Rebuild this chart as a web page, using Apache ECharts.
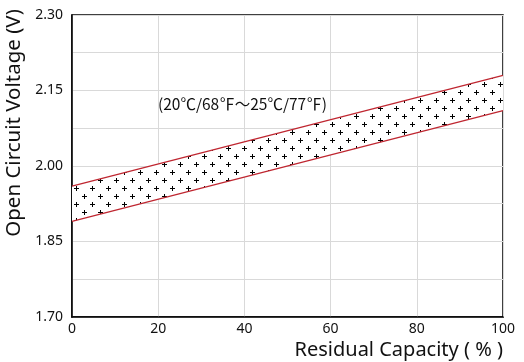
<!DOCTYPE html>
<html><head><meta charset="utf-8">
<script src="https://cdn.jsdelivr.net/npm/echarts@6/dist/echarts.min.js"></script>
<style>html,body{margin:0;padding:0;background:#fff}#c{width:524px;height:362px}</style>
</head><body><div id="c"></div>
<script>
const capacity = [0, 100];
const upperV = [1.96, 2.18];
const lowerV = [1.89, 2.11];
const yTickLabels = ['1.70', '1.85', '2.00', '2.15', '2.30'];
const xTickLabels = ['0', '20', '40', '60', '80', '100'];
const bandLabel = '(20\u2103/68\u2109\uff5e25\u2103/77\u2109)';

const pc = document.createElement('canvas');
pc.width = 16; pc.height = 16;
const g = pc.getContext('2d');
g.fillStyle = '#fff'; g.fillRect(0, 0, 16, 16);
g.fillStyle = '#000';
function plus(x, y) { g.fillRect(x - 2, y, 5, 1); g.fillRect(x, y - 2, 1, 5); }
plus(4, 4); plus(12, 12);

const chart = echarts.init(document.getElementById('c'), null, {renderer: 'canvas'});
const font = '"Noto Sans", "DejaVu Sans", sans-serif';
const bandData = capacity.map((x, i) => [x, lowerV[i], upperV[i]]);
chart.setOption({
  animation: false,
  grid: {left: 72, right: 21, top: 15, bottom: 45, show: true, borderColor: '#000', borderWidth: 1.5, backgroundColor: 'transparent'},
  xAxis: {
    type: 'value', min: 0, max: 100, interval: 20,
    axisLine: {show: true, lineStyle: {color: '#000', width: 1.5}},
    axisTick: {show: false},
    splitLine: {show: true, lineStyle: {color: '#d9d9d9', width: 1}},
    axisLabel: {color: '#111', fontSize: 14, fontFamily: font, margin: 5,
      formatter: v => xTickLabels.includes(String(v)) ? String(v) : ''}
  },
  yAxis: {
    type: 'value', min: 1.70, max: 2.30, interval: 0.075,
    axisLine: {show: true, lineStyle: {color: '#000', width: 1.5}},
    axisTick: {show: false},
    splitLine: {show: true, lineStyle: {color: '#d9d9d9', width: 1}},
    axisLabel: {color: '#111', fontSize: 14, fontFamily: font, margin: 9,
      formatter: v => { const s = v.toFixed(2); return yTickLabels.includes(s) ? s : ''; }}
  },
  series: [
    {type: 'custom', z: 2, clip: true,
     data: bandData,
     encode: {x: 0, y: [1, 2]},
     renderItem: function (params, api) {
       if (params.dataIndex !== 0) return;
       const pts = [];
       for (let i = 0; i < bandData.length; i++) pts.push(api.coord([bandData[i][0], bandData[i][2]]));
       for (let i = bandData.length - 1; i >= 0; i--) pts.push(api.coord([bandData[i][0], bandData[i][1]]));
       return {type: 'polygon', shape: {points: pts}, style: {fill: {image: pc, repeat: 'repeat'}, stroke: null}};
     }},
    {type: 'line', symbol: 'none', z: 3,
     data: capacity.map((x, i) => [x, lowerV[i]]),
     lineStyle: {color: '#bf2630', width: 1.2}},
    {type: 'line', symbol: 'none', z: 3,
     data: capacity.map((x, i) => [x, upperV[i]]),
     lineStyle: {color: '#bf2630', width: 1.2}}
  ],
  graphic: [
    {type: 'text', left: 158, top: 96, z: 10,
     style: {text: bandLabel, fill: '#111', fontSize: 15.5, fontFamily: 'Noto Sans CJK SC'}},
    {type: 'text', x: 503, y: 350, z: 10,
     style: {text: 'Residual Capacity ( % )', fill: '#111', fontSize: 20, fontFamily: 'Noto Sans', textAlign: 'right', textVerticalAlign: 'middle'}},
    {type: 'text', x: 14, y: 123, rotation: Math.PI / 2, z: 10,
     style: {text: 'Open Circuit Voltage (V)', fill: '#111', fontSize: 20.5, fontFamily: 'Noto Sans', textAlign: 'center', textVerticalAlign: 'middle'}}
  ]
});
</script></body></html>
